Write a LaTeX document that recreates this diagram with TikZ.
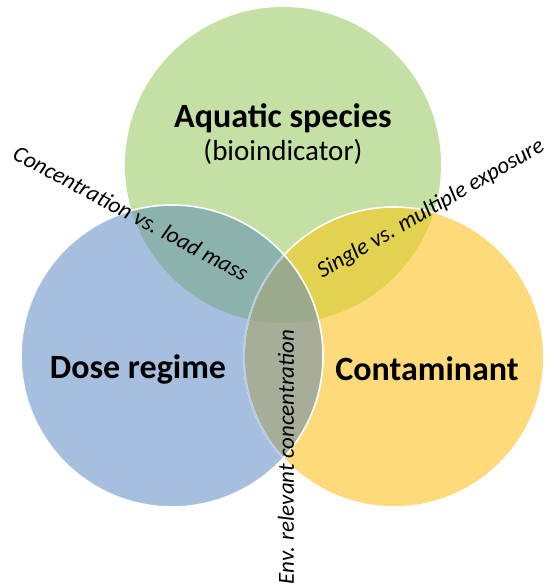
\documentclass[tikz,border=0pt]{standalone}
\usepackage{fontspec}
\setmainfont{Carlito}
\definecolor{cgreen}{HTML}{C5E0A4}
\definecolor{cblue}{HTML}{A7BFDE}
\definecolor{cyellow}{HTML}{FFDA7B}
\definecolor{cBG}{HTML}{8BB2AC}
\definecolor{cGY}{HTML}{E3D250}
\definecolor{cBY}{HTML}{A6AD99}
\definecolor{cBGY}{HTML}{9BAA8B}
\definecolor{cedge}{HTML}{B8CCE4}
\begin{document}
\begin{tikzpicture}[x=1pt,y=-1pt,
  title/.style={font=\bfseries\fontsize{34}{36}\selectfont, inner sep=0pt},
  sub/.style={font=\fontsize{29}{31}\selectfont, inner sep=0pt},
  rel/.style={font=\itshape\fontsize{23}{25}\selectfont, inner sep=0pt},
  rim/.style={line width=1.6pt}]
\useasboundingbox (0,0) rectangle (547,588);
\def\G{(283,165) circle (158pt)}
\def\B{(172,356) circle (151pt)}
\def\Y{(394,357) circle (150pt)}
\fill[cgreen] \G;
\fill[cblue] \B;
\fill[cyellow] \Y;
\begin{scope}\clip \G; \fill[cBG] \B; \fill[cGY] \Y; \end{scope}
\begin{scope}\clip \B; \fill[cBY] \Y; \end{scope}
\begin{scope}\clip \G; \clip \B; \fill[cBGY] \Y; \end{scope}
\draw[rim, white] \Y;
\begin{scope}\clip \B; \draw[rim, cedge] \Y; \end{scope}
\draw[rim, white] \B;
\node[title] (aq) at (283,118) {Aquatic species};
\node[sub] (bio) at (283,152) {(bioindicator)};
\node[title] (dose) at (138,369) {Dose regime};
\node[title] (cont) at (427,369) {Contaminant};
\node[rel, rotate=-28] (conc) at (131,213) {Concentration vs. load mass};
\node[rel, rotate=30] (single) at (431,209) {Single vs. multiple exposure};
\node[rel, rotate=90] (env) at (286,457) {Env. relevant concentration};
\end{tikzpicture}
\end{document}
